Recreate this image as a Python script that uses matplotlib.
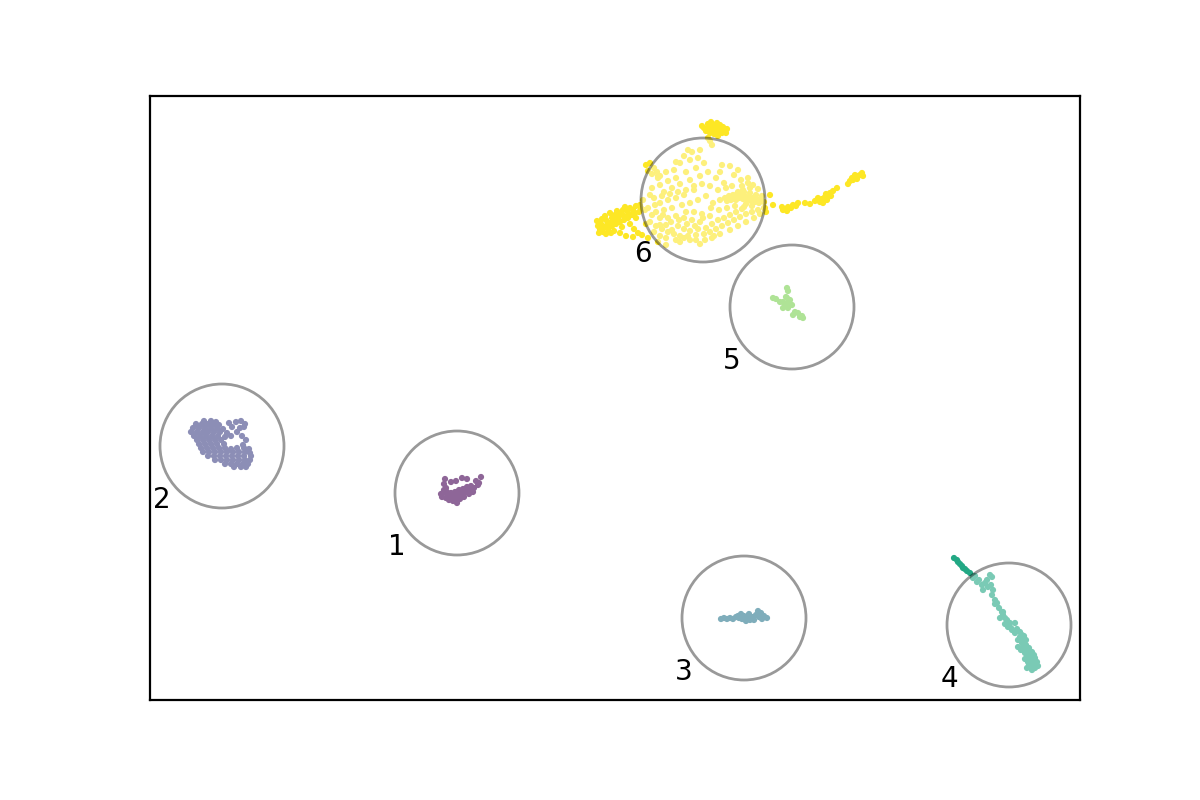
import numpy as np
import matplotlib
matplotlib.use("Agg")
import matplotlib.pyplot as plt
from matplotlib.patches import Circle

# cluster embeddings (coords, y grows downward)
c1_pts = [(445,479),(444,484),(451,482),(456,481),(462,478),(467,479),(476,481),(481,477),
          (478,485),(474,488),(470,490),(466,492),(462,494),(458,495),(454,496),(450,497),
          (446,498),(442,497),(443,493),(447,492),(451,493),(455,492),(459,490),(463,489),
          (467,487),(471,486),(446,488),(444,490),(449,500),(453,501),(457,503),(460,499),
          (464,497),(441,494),(448,495),(452,498),(456,498),(469,494),(473,492),(479,483)]

c2_pts = [(204,421),(211,421),(216,422),
          (196,424),(202,424),(208,424),(214,424),(219,425),(229,423),(236,422),(241,421),(245,424),
          (193,428),(199,428),(205,428),(211,428),(217,428),(223,429),(232,427),(240,428),(244,427),
          (191,432),(197,432),(203,432),(208,432),(214,432),(220,432),(227,433),(237,432),
          (194,436),(200,436),(206,436),(212,436),(218,436),(225,437),(231,436),(242,436),
          (197,440),(203,440),(209,440),(215,440),(221,440),(246,440),
          (199,444),(205,444),(211,444),(217,444),(224,444),(243,445),
          (201,448),(207,448),(213,448),(219,448),(225,448),(231,449),(237,448),(244,448),(249,449),
          (203,452),(209,452),(215,452),(221,452),(227,452),(233,452),(239,452),(245,452),(250,453),
          (208,456),(214,456),(220,456),(226,456),(232,456),(238,456),(244,456),(251,456),
          (215,460),(221,460),(227,460),(233,460),(239,460),(245,460),(250,460),
          (225,464),(231,464),(237,464),(243,464),(248,464),
          (234,467),(241,467),(246,467)]

c3_pts = [(721,619),(724,618),(727,619),(730,618),(733,619),(738,616),(741,614),(744,616),
          (747,618),(750,620),(742,619),(753,617),(756,615),(758,611),(761,613),(764,616),
          (767,618),(754,620),(746,621),(739,618),(736,617),(759,617),(762,619),(749,614)]

c4_pts = [(954,558),(958,562),(960,564),(962,566),(963,568),(967,571),(970,573),
          (973,578),(977,582),(982,585),(983,590),(990,575),(992,577),(988,587),(991,585),
          (993,590),(992,595),(995,600),(997,603),(1002,612),(1003,615),(1005,618),(1007,620),
          (1010,623),(1015,623),(1008,627),(1012,630),(1015,633),(1020,637),(1022,635),
          (1018,640),(1022,643),(1023,647),(1027,650),(1030,653),(1025,653),(1027,657),
          (1032,658),(1035,658),(1028,662),(1033,663),(1037,662),(1030,667),(1035,668),
          (1027,668),(1032,670),(1023,640),(1018,647),(1000,618),(1003,612),
          (1017,629),(1020,632),(1024,636),(1026,640),(1026,645),(1029,648),(1032,652),
          (1034,655),(1029,656),(1036,665),(1031,660),(1025,659),(1029,665),(1033,667),
          (1038,666),(1021,650),(1011,628),(1005,624),(999,608),(995,604),(985,583),
          (979,580),(987,580),(975,576),(957,560),(965,569)]

c5_pts = [(787,288),(788,291),(773,298),(776,299),(780,302),(783,302),(785,305),(788,303),
          (790,300),(787,298),(783,308),(788,308),(792,305),(795,312),(798,313),(802,316),
          (803,318),(793,315),(800,317),(786,297)]

c6_pts = [
    # top clump
    (704,128),(708,124),(711,122),(714,125),(717,123),(720,125),(723,127),(712,129),(716,130),
    (719,131),(722,133),(726,133),(710,133),(706,131),(714,134),(718,136),(708,138),(727,129),
    (702,126),(709,127),(713,128),(721,129),(725,131),(716,127),
    # left tail
    (597,221),(601,224),(604,227),(606,220),(609,223),(612,218),(615,215),(618,219),(621,213),
    (624,216),(627,211),(630,208),(633,210),(636,206),(639,212),(600,230),(603,232),(608,229),
    (612,226),(616,224),(620,222),(624,220),(628,218),(632,215),(636,218),(605,216),(610,213),
    (617,211),(625,207),(643,200),(640,205),(645,210),(598,226),(614,231),(630,224),(634,229),
    (638,233),(642,235),(633,237),(626,236),(620,233),
    (602,219),(607,225),(613,221),(619,216),(623,210),(629,214),(635,213),(641,208),(611,233),
    (599,233),(606,234),(622,227),
    (646,165),(650,163),(654,168),(648,171),(652,174),(657,172),(660,176),
    # right tail
    (770,195),(773,205),(782,207),(785,209),(788,207),(793,205),(798,203),(805,203),(815,201),
    (818,198),(822,199),(825,197),(828,197),(830,193),(833,191),(837,188),(848,184),(852,178),
    (855,175),(858,176),(862,173),(863,176),(853,180),(823,203),(820,202),(827,200),(783,210),
    (765,208),(787,211),(791,208),(796,206),(810,204),(826,194),(831,196),(850,181),(857,179),
    (860,175),
    # core, upper part
    (688,150),(698,158),(712,145),(704,163),(696,168),(686,172),(676,178),(668,181),(660,185),
    (652,188),(664,192),(672,188),(680,184),(690,180),(700,176),(708,172),(694,190),(684,195),
    (676,198),(668,200),(660,203),(654,198),(648,208),(656,212),(664,210),(672,208),(682,205),
    (690,203),(698,200),(706,196),(716,178),(724,183),(734,175),(741,180),(748,178),(743,190),
    (736,200),(713,203),(720,200),(680,163),(690,160),(700,150),(710,141),(674,170),(658,178),
    (722,165),
    (662,196),(670,194),(678,192),(686,190),(694,186),(702,184),(710,186),(718,190),(726,188),
    (732,186),(655,205),(663,215),(671,222),(679,220),(687,224),(695,226),(703,218),(711,208),
    (719,210),(727,208),(735,206),(744,207),(650,195),(660,225),(666,245),(676,240),(684,238),
    (696,240),(700,244),(714,236),(658,176),(666,172),(676,162),(684,156),(692,152),(720,172),
    (730,166),(738,170),(750,188),(764,202),
    # core, right blob
    (725,198),(729,196),(733,195),(737,194),(741,195),(745,196),(749,197),(753,198),(757,199),
    (761,200),(727,201),(731,200),(735,199),(739,198),(743,199),(747,200),(751,201),(755,202),
    (759,203),(738,192),(744,192),(750,193),(756,195),(762,196),(746,204),(752,206),(742,186),
    (753,185),(758,189),(748,183),
    # core, lower band
    (650,222),(656,226),(662,229),(668,232),(674,234),(680,236),(688,236),(696,235),(704,234),
    (710,232),(716,229),(722,226),(728,223),(734,220),(740,217),(746,214),(752,212),(758,210),
    (764,208),(654,232),(660,236),(666,238),(672,230),(678,226),(684,229),(690,231),(698,229),
    (706,228),(712,224),(718,220),(724,218),(730,215),(736,212),(742,209),(700,222),(692,220),
    (684,218),(676,216),(668,218),(660,218),(652,215),(646,224),(648,238),(658,242),(666,225),
    (705,240),(712,238),(690,240),(680,242),(720,234),(730,230),(738,226),(746,222),(754,218),
    (760,214),(766,212),(686,212),(694,212),(702,214),(710,216)]

clusters = [c1_pts, c2_pts, c3_pts, c4_pts, c5_pts, c6_pts]
cluster_names = ["1", "2", "3", "4", "5", "6"]

# circle centres around each cluster
centers = [(457,493), (222,446), (744,618), (1009,625), (792,307), (703,200)]
radius = 62

pts = np.array([p for c in clusters for p in c], dtype=float)
labels = np.concatenate([np.full(len(c), i) for i, c in enumerate(clusters)])

fig = plt.figure(figsize=(6, 4), dpi=200)
ax = fig.add_axes([0.125, 0.125, 0.775, 0.755])

ax.scatter(pts[:, 0], pts[:, 1], c=labels, cmap="viridis", s=5, linewidths=0)

for name, (cx, cy) in zip(cluster_names, centers):
    ax.add_patch(Circle((cx, cy), radius, facecolor="white", edgecolor="black",
                        alpha=0.4, lw=1))
    ax.text(cx - 60, cy + 54, name, ha="center", va="center", fontsize=10)

ax.set_xlim(150, 1080)
ax.set_ylim(700, 96)
ax.set_xticks([])
ax.set_yticks([])

fig.savefig("out.png", dpi=200)
